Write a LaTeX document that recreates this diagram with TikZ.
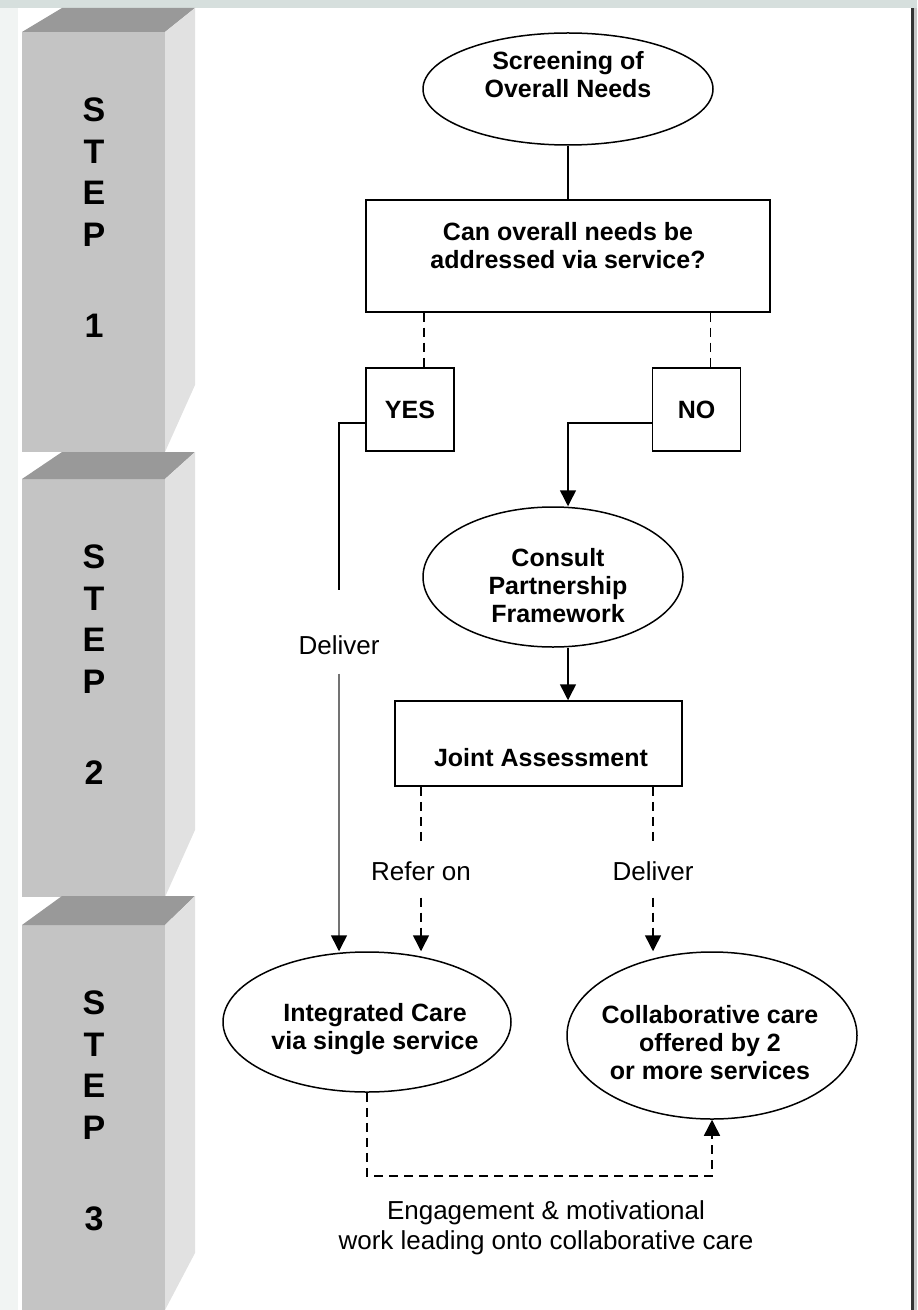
\documentclass[tikz,border=0pt]{standalone}
\usepackage{fontspec}
\setmainfont{Liberation Sans}
\usetikzlibrary{arrows.meta,shapes.geometric,positioning}

\definecolor{frontgray}{HTML}{C4C4C4}
\definecolor{topgray}{HTML}{999999}
\definecolor{sidegray}{HTML}{E1E1E1}
\definecolor{topband}{HTML}{D6DFDD}
\definecolor{leftband}{HTML}{F1F4F3}

\tikzset{
  flow/.style={draw, line width=0.75pt, inner sep=0pt},
  oval/.style={flow, ellipse},
  box/.style={flow, rectangle, font=\bfseries\fontsize{12.5}{14}\selectfont},
  flowtxt/.style={font=\bfseries\fontsize{12.5}{14}\selectfont, align=center},
  lbl/.style={font=\fontsize{13}{15}\selectfont, align=center},
  steptxt/.style={font=\bfseries\fontsize{17}{20.8}\selectfont, align=center},
  link/.style={line width=0.75pt},
  dashlink/.style={link, dash pattern=on 4.5pt off 3pt},
  arrowhd/.style={-{Triangle[width=8pt,length=8pt,color=black]}}
}

\begin{document}
\begin{tikzpicture}[x=0.5pt, y=-0.5pt]

    \useasboundingbox (0,0) rectangle (917,1310);

    % Page edges
    \fill[topband] (0,0) rectangle (917,8);
    \fill[leftband] (0,8) rectangle (18,1310);
    \fill[black!80] (911,8) rectangle (914,1310);
    \fill[black!22] (914,8) rectangle (917,1310);

    % Step columns
    \foreach \ttop/\ftop/\sbot/\fbot/\num in {8/32/385/452/1, 452/479/830/897/2, 896/925/1253/1310/3} {
        \fill[frontgray] (22,\ftop) rectangle (165,\fbot);
        \fill[topgray] (22,\ftop) -- (62,\ttop) -- (195,\ttop) -- (165,\ftop) -- cycle;
        \fill[sidegray] (165,\ftop) -- (195,\ttop) -- (195,\sbot) -- (165,\fbot) -- cycle;
        \node[steptxt] (step\num) at (94,\ftop+140) {S\\T\\E\\P};
        \node[steptxt] (num\num) at (94,\ftop+294) {\num};
    }

    % Main axis of the chart
    \coordinate (axis) at (568,0);

    % Step 1
    \node[oval, minimum width=145pt, minimum height=56pt] (screen) at (568,89) {};
    \node[flowtxt] (screentxt) at (568,75) {Screening of\\Overall Needs};
    \node[box, minimum width=202pt, minimum height=56pt] (ask) at (568,256) {};
    \node[flowtxt] (asktxt) at (568,246) {Can overall needs be\\addressed via service?};
    \node[box, minimum width=44pt, minimum height=41.5pt] (yes) at (410,409.5) {YES};
    \node[box, minimum width=44pt, minimum height=41.5pt] (no) at (696.5,409.5) {NO};

    \draw[link] (screen.south) -- (ask.north);
    \draw[dashlink] ([xshift=7pt]yes.north |- ask.south) -- ([xshift=7pt]yes.north);
    \draw[dashlink] ([xshift=7pt]no.north |- ask.south) -- ([xshift=7pt]no.north);

    % Step 2
    \node[oval, minimum width=130pt, minimum height=70pt] (consult) at (553,577) {};
    \node[flowtxt] (consulttxt) at (558,586) {Consult\\Partnership\\Framework};
    \node[box, minimum width=143.5pt, minimum height=42.5pt] (joint) at (538.5,743.5) {};
    \node[flowtxt] (jointtxt) at (541,758) {Joint Assessment};
    \node[lbl] (dlv1) at (339,645) {Deliver};
    \node[lbl] (refer) at (421,871) {Refer on};
    \node[lbl] (dlv2) at (653,871) {Deliver};

    \draw[link, arrowhd] ([yshift=-6.75pt]no.west) -| (consult.north -| axis);
    \draw[link, arrowhd] (consult.south -| axis) -- (joint.north -| axis);
    \draw[link, shorten >=19pt] ([yshift=-6.75pt]yes.west) -| (dlv1.north);

    % Step 3
    \node[oval, minimum width=144pt, minimum height=70pt] (integ) at (367,1022) {};
    \node[flowtxt] (integtxt) at (375,1029) {Integrated Care\\via single service};
    \node[oval, minimum width=145pt, minimum height=83.5pt] (collab) at (712,1035.5) {};
    \node[flowtxt] (collabtxt) at (710,1043) {Collaborative care\\offered by 2\\or more services};
    \node[lbl] (engage) at (546,1228) {Engagement \& motivational\\work leading onto collaborative care};

    \draw[link, black!55, arrowhd, shorten <=6pt] (dlv1.south) -- (dlv1.south |- integ.north);
    \draw[dashlink, shorten >=6.5pt] (joint.south -| refer.north) -- (refer.north);
    \draw[dashlink, arrowhd, shorten <=5pt] (refer.south) -- (refer.south |- integ.north);
    \draw[dashlink, shorten >=6.5pt] (joint.south -| dlv2.north) -- (dlv2.north);
    \draw[dashlink, arrowhd, shorten <=5pt] (dlv2.south) -- (dlv2.south |- collab.north);
    \draw[dashlink, arrowhd] (integ.south) -- ++(0,83) -| (collab.south);

\end{tikzpicture}
\end{document}
